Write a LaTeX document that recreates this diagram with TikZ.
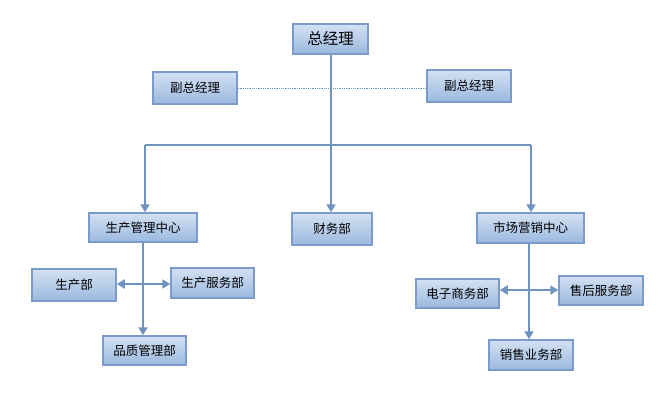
\documentclass[tikz,border=0pt]{standalone}
\usepackage{fontspec}
\setmainfont{Noto Sans CJK SC}
\usetikzlibrary{arrows.meta,shadows}
\definecolor{boxtop}{HTML}{D3E1F3}
\definecolor{boxbot}{HTML}{9BB8DE}
\definecolor{boxline}{HTML}{7B9CCA}
\definecolor{conn}{HTML}{6F93BF}
\tikzset{
  orgbox/.style={draw=boxline, line width=1.5pt, top color=boxtop, bottom color=boxbot,
    drop shadow={shadow xshift=1pt, shadow yshift=-1pt, opacity=0.25},
    minimum height=29pt, inner sep=0pt, font=\fontsize{12.5}{14}\selectfont},
  conline/.style={draw=conn, line width=1.8pt},
  arr/.style={conline, -{Triangle[width=9pt,length=8pt]}},
  darr/.style={conline, {Triangle[width=9pt,length=8pt]}-{Triangle[width=9pt,length=8pt]}},
}
\begin{document}
\begin{tikzpicture}[x=1pt,y=-1pt]
\useasboundingbox (0,0) rectangle (672,396);
\node[orgbox, minimum width=75pt, minimum height=30pt, font=\fontsize{15.5}{17}\selectfont] (gm) at (330.5,39) {总经理};
\node[orgbox, minimum width=84pt, minimum height=32pt] (vl) at (195,88) {副总经理};
\node[orgbox, minimum width=84pt, minimum height=32pt] (vr) at (469,86) {副总经理};
\node[orgbox, minimum width=108pt] (pc) at (143,227.5) {生产管理中心};
\node[orgbox, minimum width=80pt, minimum height=32pt] (cw) at (332,229) {财务部};
\node[orgbox, minimum width=107pt, minimum height=30pt] (mc) at (530.5,228) {市场营销中心};
\node[orgbox, minimum width=84pt, minimum height=32pt] (sc) at (74,285) {生产部};
\node[orgbox, minimum width=83pt, minimum height=30pt] (sf) at (212.5,283) {生产服务部};
\node[orgbox, minimum width=83pt] (pz) at (144.5,350.5) {品质管理部};
\node[orgbox, minimum width=83pt] (ds) at (457.5,293.5) {电子商务部};
\node[orgbox, minimum width=84pt] (sh) at (601,290.5) {售后服务部};
\node[orgbox, minimum width=84pt, minimum height=30pt] (xs) at (531,355) {销售业务部};

\coordinate (bar) at (331,145);
\coordinate (barl) at (145,145);
\coordinate (barr) at (531,145);
\draw[densely dotted, draw=conn, line width=0.8pt] (vl.east) -- (vr.west |- vl.east);
\draw[conline] (gm.south -| bar) -- (bar);
\draw[conline] (barl) -- (barr);
\draw[arr] (bar) -- (bar |- cw.north);
\draw[arr] (barl) -- (barl |- pc.north);
\draw[arr] (barr) -- (barr |- mc.north);

\coordinate (pv) at (143,284);
\draw[arr] (pc.south -| pv) -- (pz.north -| pv);
\draw[darr] (sc.east |- pv) -- (sf.west |- pv);

\coordinate (mv) at (529,290);
\draw[arr] (mc.south -| mv) -- (xs.north -| mv);
\draw[darr] (ds.east |- mv) -- (sh.west |- mv);
\end{tikzpicture}
\end{document}
